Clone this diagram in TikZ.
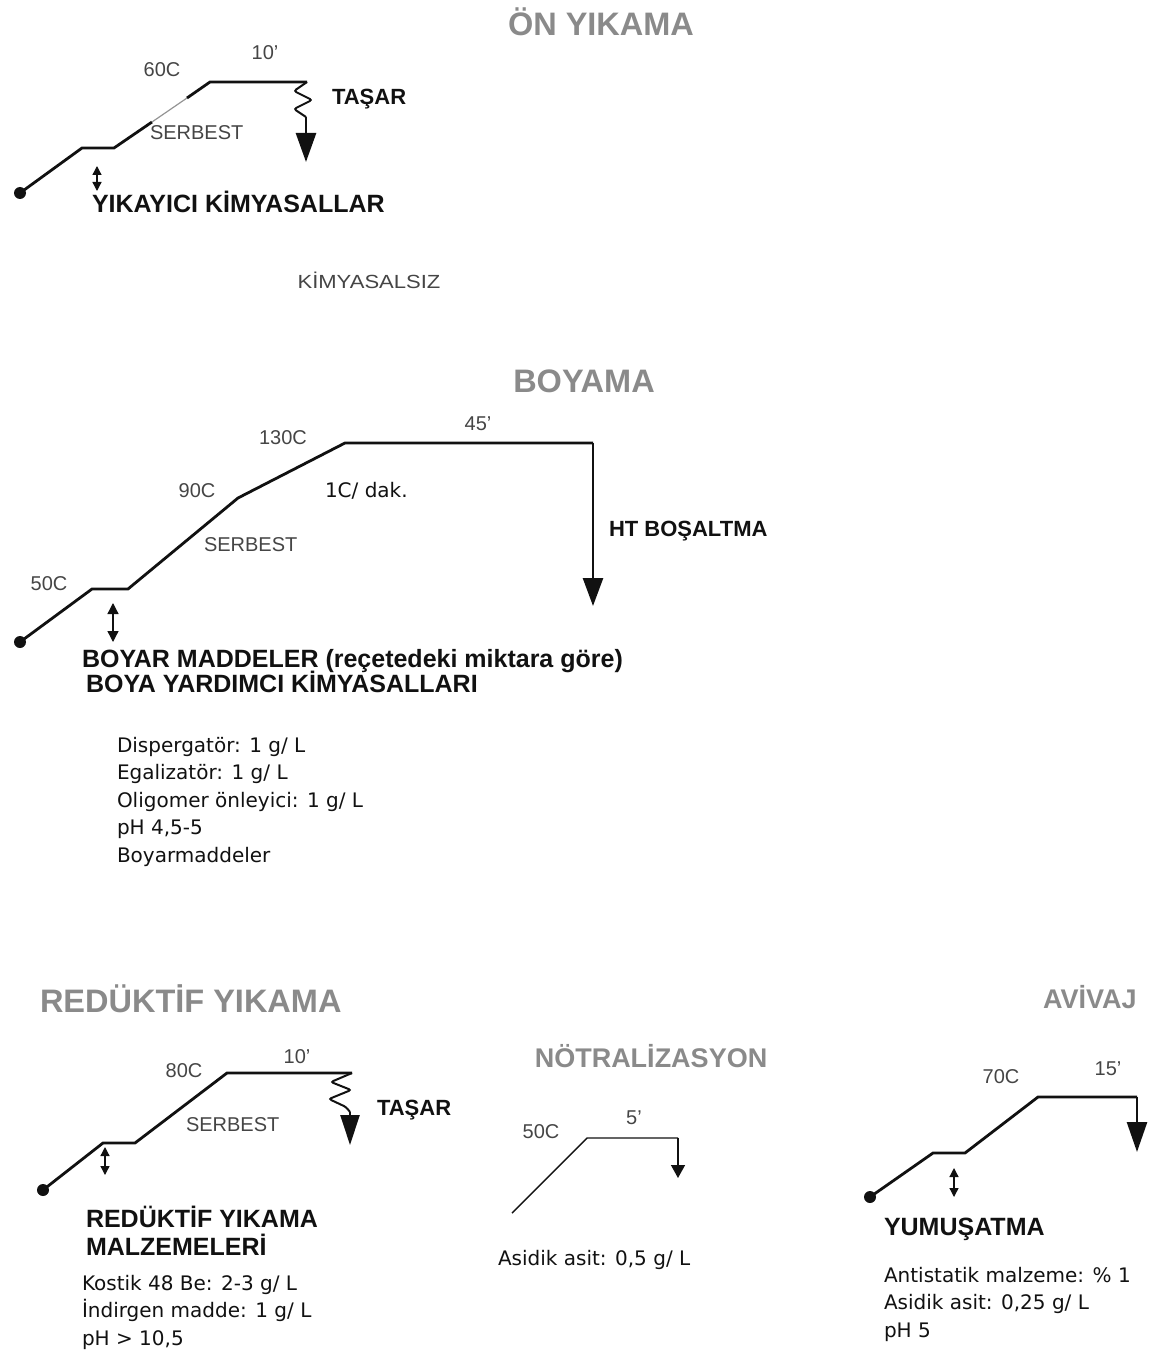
\documentclass[tikz,border=0pt]{standalone}
\usepackage{fontspec}
\setmainfont{Liberation Sans}
\newfontfamily\listfont{DejaVu Sans}
\usetikzlibrary{arrows.meta}
\definecolor{titlegray}{HTML}{8A8A8A}
\definecolor{lblgray}{HTML}{454545}
\definecolor{ink}{HTML}{111111}
\begin{document}
\begin{tikzpicture}[x=1pt,y=-1pt,
  every node/.style={inner sep=0pt,outer sep=0pt},
  ttl/.style={font=\fontsize{32.5}{36}\selectfont\bfseries, text=titlegray, anchor=base},
  ttls/.style={font=\fontsize{27}{32}\selectfont\bfseries, text=titlegray, anchor=base},
  tmp/.style={font=\fontsize{20}{24}\selectfont, text=lblgray, anchor=base},
  tmpw/.style={font=\fontsize{20}{24}\selectfont, text=lblgray, anchor=base west},
  bl/.style={font=\fontsize{22}{26}\selectfont\bfseries, text=ink, anchor=base west},
  hd/.style={font=\fontsize{25}{29}\selectfont\bfseries, text=ink, anchor=base west},
  lst/.style={font=\listfont\fontsize{20}{24}\selectfont, text=ink, anchor=base west},
  prof/.style={draw=ink, line width=2.8pt, line join=miter},
  wig/.style={draw=ink, line width=2pt, rounded corners=2.5pt},
  bigarrow/.style={draw=ink, line width=2.6pt, -{Triangle[width=20pt,length=28pt]}},
  dbl/.style={draw=ink, line width=1.3pt, {Triangle[width=9pt,length=9pt]}-{Triangle[width=9pt,length=9pt]}},
  dotc/.style={fill=ink}]
\useasboundingbox (0,0) rectangle (1153,1351);

% ================= ÖN YIKAMA =================
\node[ttl] (t1) at (601,36) {ÖN YIKAMA};
\coordinate (a0) at (20,193);
\coordinate (a1) at (82,148);
\coordinate (a2) at (114,148);
\coordinate (a3) at (152,122);
\coordinate (a4) at (187,98);
\coordinate (a5) at (210,82);
\coordinate (a6) at (307,82);
\coordinate (aw) at (306,117);
\coordinate (atip) at (306,162);
\fill[dotc] (a0) circle (6);
\draw[prof] (a0) -- (a1) -- (a2) -- (a3);
\draw[draw=ink!45, line width=1.2pt] (a3) -- (a4);
\draw[prof] (a4) -- (a5) -- (a6);
\draw[wig] (a6) -- (294,91) -- (312,100) -- (294,109) -- (aw);
\draw[bigarrow, -{Triangle[width=20pt,length=29pt]}] (aw) -- (atip);
\coordinate (ad1) at (97,166);
\coordinate (ad2) at (97,191);
\draw[dbl] (ad1) -- (ad2);
\node[tmp] (a60) at (162,77) {60C};
\node[tmp] (a10) at (265,60) {10'};
\node[bl] (atasar) at (332,105) {TAŞAR};
\node[tmpw] (aserb) at (150,140) {SERBEST};
\node[hd] (ayik) at (92,212) {YIKAYICI KİMYASALLAR};
\node[font=\fontsize{19}{22}\selectfont, text=lblgray, anchor=base] (kims) at (369,288) {\scalebox{1.16}[1]{KİMYASALSIZ}};

% ================= BOYAMA =================
\node[ttl] (t2) at (584,392) {BOYAMA};
\coordinate (b0) at (20,642);
\coordinate (b1) at (92,589);
\coordinate (b2) at (128,589);
\coordinate (b3) at (238,498);
\coordinate (b4) at (345,443);
\coordinate (b5) at (593,443);
\coordinate (btip) at (593,606);
\fill[dotc] (b0) circle (6);
\draw[prof] (b0) -- (b1) -- (b2) -- (b3) -- (b4) -- (b5);
\draw[bigarrow] (b5) -- (btip);
\coordinate (bd1) at (113,603);
\coordinate (bd2) at (113,642);
\draw[dbl, {Triangle[width=11pt,length=11pt]}-{Triangle[width=11pt,length=11pt]}] (bd1) -- (bd2);
\node[tmp] (b50) at (49,590) {50C};
\node[tmp] (b90) at (197,497) {90C};
\node[tmp] (b130) at (283,444) {130C};
\node[tmp] (b45) at (478,430) {45'};
\node[lst] (b1c) at (325,497) {1C/ dak.};
\node[tmpw] (bserb) at (204,551) {SERBEST};
\node[bl] (bht) at (609,536) {HT BOŞALTMA};
\node[hd] (bboy) at (82,667) {BOYAR MADDELER (reçetedeki miktara göre)};
\node[hd] (byard) at (86,692) {BOYA YARDIMCI KİMYASALLARI};
\node[lst] (bl1) at (117,752) {Dispergatör: 1 g/ L};
\node[lst] (bl2) at (117,779.5) {Egalizatör: 1 g/ L};
\node[lst] (bl3) at (117,807) {Oligomer önleyici: 1 g/ L};
\node[lst] (bl4) at (117,834.5) {pH 4,5-5};
\node[lst] (bl5) at (117,862) {Boyarmaddeler};

% ================= REDÜKTİF YIKAMA =================
\node[ttl, anchor=base west] (t3) at (40,1012) {REDÜKTİF YIKAMA};
\coordinate (r0) at (43,1190);
\coordinate (r1) at (103,1143);
\coordinate (r2) at (135,1143);
\coordinate (r3) at (227,1073);
\coordinate (r4) at (352,1073);
\coordinate (rw) at (350,1112);
\coordinate (rtip) at (350,1145);
\fill[dotc] (r0) circle (6);
\draw[prof] (r0) -- (r1) -- (r2) -- (r3) -- (r4);
\draw[wig] (r4) -- (331,1082) -- (351,1090) -- (329,1099) -- (346,1107) -- (rw);
\draw[bigarrow, -{Triangle[width=19pt,length=30pt]}] (rw) -- (rtip);
\coordinate (rd1) at (105,1147);
\coordinate (rd2) at (105,1175);
\draw[dbl] (rd1) -- (rd2);
\node[tmp] (r80) at (184,1077) {80C};
\node[tmp] (r10) at (297,1063) {10'};
\node[bl] (rtasar) at (377,1115) {TAŞAR};
\node[tmpw] (rserb) at (186,1131) {SERBEST};
\node[hd] (rh1) at (86,1227) {REDÜKTİF YIKAMA};
\node[hd] (rh2) at (86,1255) {MALZEMELERİ};
\node[lst] (rl1) at (82,1290) {Kostik 48 Be: 2-3 g/ L};
\node[lst] (rl2) at (82,1317.5) {İndirgen madde: 1 g/ L};
\node[lst] (rl3) at (82,1345) {pH > 10,5};

% ================= NÖTRALİZASYON =================
\node[ttls] (t4) at (651,1067) {NÖTRALİZASYON};
\coordinate (n0) at (512,1213);
\coordinate (n1) at (587,1138);
\coordinate (n2) at (678,1138);
\coordinate (ntip) at (678,1178);
\draw[draw=ink, line width=1.4pt] (n0) -- (n1) -- (n2);
\draw[draw=ink, line width=1.4pt, -{Triangle[width=14pt,length=13pt]}] (n2) -- (ntip);
\node[tmp] (n50) at (541,1138) {50C};
\node[tmp] (n5) at (634,1124) {5'};
\node[lst] (nl1) at (498,1265) {Asidik asit: 0,5 g/ L};

% ================= AVİVAJ =================
\node[ttls, anchor=base west] (t5) at (1043,1008) {AVİVAJ};
\coordinate (v0) at (870,1197);
\coordinate (v1) at (933,1153);
\coordinate (v2) at (965,1153);
\coordinate (v3) at (1038,1097);
\coordinate (v4) at (1137,1097);
\coordinate (vtip) at (1137,1152);
\fill[dotc] (v0) circle (6);
\draw[prof] (v0) -- (v1) -- (v2) -- (v3) -- (v4);
\draw[bigarrow, -{Triangle[width=20pt,length=30pt]}] (v4) -- (vtip);
\coordinate (vd1) at (954,1168);
\coordinate (vd2) at (954,1197);
\draw[dbl] (vd1) -- (vd2);
\node[tmp] (v70) at (1001,1083) {70C};
\node[tmp] (v15) at (1108,1075) {15'};
\node[hd] (vyum) at (884,1235) {YUMUŞATMA};
\node[lst] (vl1) at (884,1282) {Antistatik malzeme: \% 1};
\node[lst] (vl2) at (884,1309.5) {Asidik asit: 0,25 g/ L};
\node[lst] (vl3) at (884,1337) {pH 5};
\end{tikzpicture}
\end{document}
